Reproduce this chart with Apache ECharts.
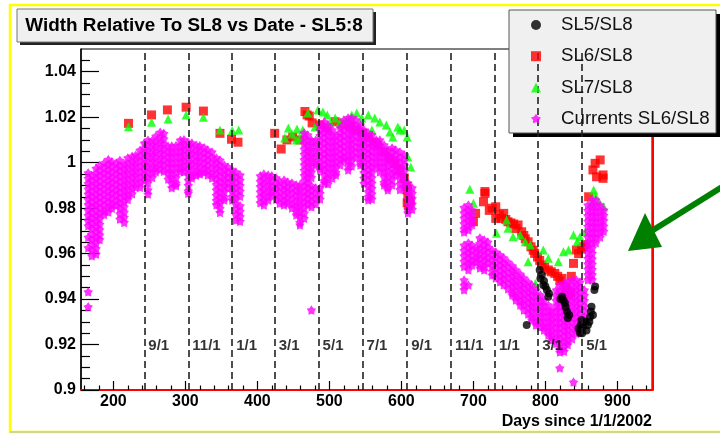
<!DOCTYPE html>
<html>
<head>
<meta charset="utf-8">
<script src="https://cdn.jsdelivr.net/npm/echarts@6/dist/echarts.min.js"></script>
<style>
  html, body { margin: 0; padding: 0; background: #fff; }
  #chart { width: 720px; height: 434px; }
</style>
</head>
<body>
<div id="chart"></div>
<script>
// Axis ticks
const xTicks = [200, 300, 400, 500, 600, 700, 800, 900];
const xMinorTicks = [160, 180, 220, 240, 260, 280, 320, 340, 360, 380, 420, 440, 460, 480,
  520, 540, 560, 580, 620, 640, 660, 680, 720, 740, 760, 780, 820, 840, 860, 880, 920, 940];
const yTicks = [0.9, 0.92, 0.94, 0.96, 0.98, 1.0, 1.02, 1.04];
const yMinorTicks = [0.905, 0.91, 0.915, 0.925, 0.93, 0.935, 0.945, 0.95, 0.955, 0.965, 0.97, 0.975,
  0.985, 0.99, 0.995, 1.005, 1.01, 1.015, 1.025, 1.03, 1.035, 1.045];

// First-of-month markers (days since 1/1/2002)
const monthDays = [243, 304, 365, 424, 485, 546, 608, 669, 730, 790, 851];
const monthLabels = ['9/1', '11/1', '1/1', '3/1', '5/1', '7/1', '9/1', '11/1', '1/1', '3/1', '5/1'];
const monthLabelLevel = 0.9194;

// SL5/SL8
const sl5 = [
  [774, 0.9286], [792, 0.9528], [793, 0.9490], [795, 0.9506], [797, 0.9462], [798, 0.9480], [800, 0.9455],
  [802, 0.9440], [804, 0.9410], [805, 0.9425], [821, 0.9400], [823, 0.9410], [825, 0.9395], [827, 0.9383],
  [828, 0.9365], [830, 0.9344], [831, 0.9317], [833, 0.9330], [846, 0.9270], [848, 0.9251], [849, 0.9285],
  [850, 0.9308], [851, 0.9250], [852, 0.9277], [855, 0.9300], [857, 0.9262], [859, 0.9286], [861, 0.9300],
  [862, 0.9321], [863, 0.9345], [864, 0.9366], [866, 0.9330], [868, 0.9440], [869, 0.9455]
];

// SL6/SL8
const sl6 = [
  [221, 1.0173], [253, 1.0210], [275, 1.0232], [301, 1.0244], [325, 1.0227], [348, 1.0129], [364, 1.0103], [373, 1.0090],
  [424, 1.0129], [433, 1.0060], [441, 1.0100], [449, 1.0113], [459, 1.0100], [466, 1.0225], [469, 1.0210], [472, 1.0205],
  [476, 1.0175], [487, 1.0166], [497, 1.0153], [508, 1.0180], [517, 1.0170], [529, 1.0161], [537, 1.0144], [546, 1.0130],
  [554, 1.0113], [561, 1.0090], [567, 1.0078], [576, 1.0047], [583, 1.0020], [591, 0.9998], [598, 0.9968], [604, 0.9933],
  [608, 0.9880], [609, 0.9850], [608, 0.9823], [608, 0.9895], [612, 0.9830], [610, 0.9810],
  [700, 0.9740], [703, 0.9777], [714, 0.9828], [716, 0.9865], [716, 0.9873], [722, 0.9790], [726, 0.9800], [731, 0.9806],
  [731, 0.9755], [736, 0.9770], [739, 0.9755], [742, 0.9777], [745, 0.9750], [748, 0.9740], [752, 0.9735], [756, 0.9730],
  [759, 0.9710], [762, 0.9726], [767, 0.9696], [770, 0.9680], [772, 0.9665], [776, 0.9652], [780, 0.9630], [783, 0.9615],
  [785, 0.9601], [789, 0.9585], [792, 0.9570], [795, 0.9550], [799, 0.9540], [804, 0.9528], [808, 0.9520], [813, 0.9513],
  [817, 0.9500], [820, 0.9480], [823, 0.9491], [827, 0.9454], [829, 0.9440], [832, 0.9418], [835, 0.9430], [836, 0.9500],
  [839, 0.9557], [843, 0.9616], [846, 0.9600], [850, 0.9620], [853, 0.9630], [856, 0.9640], [860, 0.9850], [866, 0.9968],
  [869, 0.9997], [871, 0.9938], [876, 1.0012], [880, 0.9946], [880, 0.9931]
];

// SL7/SL8
const sl7 = [
  [221, 1.0158], [253, 1.0178], [276, 1.0192], [301, 1.0210], [325, 1.0200], [348, 1.0144], [365, 1.0141], [374, 1.0144],
  [438, 1.0109], [443, 1.0153], [448, 1.0126], [454, 1.0100], [455, 1.0148], [459, 1.0109], [463, 1.0144], [470, 1.0219],
  [480, 1.0157], [484, 1.0232], [491, 1.0223], [497, 1.0210], [501, 1.0175], [508, 1.0197], [515, 1.0179], [524, 1.0188],
  [531, 1.0210], [538, 1.0219], [545, 1.0197], [554, 1.0210], [559, 1.0144], [563, 1.0197], [570, 1.0179], [579, 1.0166],
  [584, 1.0135], [588, 1.0113], [595, 1.0157], [598, 1.0144], [604, 1.0144], [608, 1.0113], [609, 1.0025], [613, 0.9981],
  [695, 0.9883], [698, 0.9784], [700, 0.9821], [732, 0.9689], [746, 0.9748], [748, 0.9711], [755, 0.9674], [765, 0.9682],
  [772, 0.9652], [779, 0.9638], [776, 0.9564], [786, 0.9469], [797, 0.9616], [804, 0.9579], [818, 0.9564], [825, 0.9608],
  [832, 0.9616], [839, 0.9682], [844, 0.9652], [848, 0.9674], [855, 0.9696], [864, 0.9821], [867, 0.9880], [869, 0.9858],
  [874, 0.9828], [881, 0.9806]
];

// Currents SL6/SL8: each row is [day, readings...]
const currentsCols = [
  [165, 0.9955, 0.9931, 0.9908, 0.9884, 0.9862, 0.9838, 0.9815, 0.9791, 0.9768, 0.9745, 0.9722, 0.9672, 0.9626, 0.9432, 0.9366],
  [170, 0.9944, 0.9921, 0.9897, 0.9873, 0.9850, 0.9826, 0.9803, 0.9779, 0.9756, 0.9732, 0.9709, 0.9685, 0.9662, 0.9638, 0.9614, 0.9590],
  [176, 0.9975, 0.9951, 0.9928, 0.9904, 0.9881, 0.9857, 0.9834, 0.9810, 0.9787, 0.9763, 0.9740, 0.9716, 0.9693, 0.9669, 0.9645, 0.9622, 0.9598],
  [181, 0.9988, 0.9964, 0.9941, 0.9917, 0.9894, 0.9870, 0.9847, 0.9823, 0.9800, 0.9776, 0.9753, 0.9729, 0.9706, 0.9682, 0.9662],
  [187, 0.9998, 0.9974, 0.9951, 0.9927, 0.9904, 0.9880, 0.9857, 0.9833, 0.9810, 0.9786, 0.9772],
  [193, 1.0014, 0.9990, 0.9967, 0.9943, 0.9920, 0.9896, 0.9873, 0.9849, 0.9826, 0.9802, 0.9783],
  [198, 1.0004, 0.9980, 0.9957, 0.9933, 0.9910, 0.9886, 0.9863, 0.9839, 0.9816, 0.9800],
  [204, 0.9996, 0.9972, 0.9949, 0.9925, 0.9902, 0.9878, 0.9855, 0.9831, 0.9812],
  [209, 1.0010, 0.9986, 0.9963, 0.9939, 0.9916, 0.9892, 0.9869, 0.9845, 0.9822, 0.9798, 0.9775, 0.9752],
  [215, 0.9994, 0.9970, 0.9947, 0.9923, 0.9900, 0.9876, 0.9853, 0.9829, 0.9806, 0.9782, 0.9759, 0.9737],
  [220, 1.0021, 0.9997, 0.9974, 0.9950, 0.9927, 0.9903, 0.9880, 0.9856, 0.9838],
  [226, 1.0028, 1.0004, 0.9981, 0.9957, 0.9934, 0.9910, 0.9887, 0.9863],
  [231, 1.0033, 1.0009, 0.9986, 0.9962, 0.9939, 0.9915, 0.9892],
  [237, 1.0055, 1.0031, 1.0008, 0.9984, 0.9961, 0.9937, 0.9914, 0.9892],
  [243, 1.0086, 1.0062, 1.0039, 1.0015, 0.9992, 0.9968, 0.9945, 0.9921],
  [248, 1.0099, 1.0075, 1.0052, 1.0028, 1.0005, 0.9981, 0.9958, 0.9934, 0.9911, 0.9880, 0.9862],
  [254, 1.0098, 1.0074, 1.0051, 1.0027, 1.0004, 0.9980, 0.9957, 0.9935],
  [259, 1.0117, 1.0093, 1.0070, 1.0046, 1.0023, 0.9999, 0.9976, 0.9960],
  [265, 1.0134, 1.0110, 1.0087, 1.0063, 1.0040, 1.0016, 0.9993, 0.9970],
  [270, 1.0129, 1.0105, 1.0082, 1.0058, 1.0035, 1.0011, 0.9988, 0.9962],
  [276, 1.0072, 1.0048, 1.0025, 1.0001, 0.9978, 0.9954, 0.9928],
  [281, 1.0073, 1.0049, 1.0026, 1.0002, 0.9979, 0.9955, 0.9932, 0.9908, 0.9890],
  [287, 1.0075, 1.0051, 1.0028, 1.0004, 0.9981, 0.9957, 0.9934, 0.9910, 0.9899],
  [293, 1.0099, 1.0075, 1.0052, 1.0028, 1.0005, 0.9981, 0.9961],
  [298, 1.0101, 1.0077, 1.0054, 1.0030, 1.0007, 0.9983, 0.9960],
  [304, 1.0088, 1.0064, 1.0041, 1.0017, 0.9994, 0.9970, 0.9947, 0.9923, 0.9900, 0.9876, 0.9866],
  [309, 1.0086, 1.0062, 1.0039, 1.0015, 0.9992, 0.9968, 0.9945, 0.9933],
  [315, 1.0077, 1.0053, 1.0030, 1.0006, 0.9983, 0.9959, 0.9945],
  [320, 1.0074, 1.0050, 1.0027, 1.0003, 0.9980, 0.9956, 0.9950],
  [326, 1.0066, 1.0042, 1.0019, 0.9995, 0.9972, 0.9958],
  [331, 1.0056, 1.0032, 1.0009, 0.9985, 0.9962, 0.9946],
  [337, 1.0047, 1.0023, 1.0000, 0.9976, 0.9953, 0.9933],
  [343, 1.0021, 0.9997, 0.9974, 0.9950, 0.9927, 0.9903, 0.9880, 0.9856, 0.9833, 0.9815],
  [348, 1.0011, 0.9987, 0.9964, 0.9940, 0.9917, 0.9893, 0.9870, 0.9846, 0.9823, 0.9799, 0.9781],
  [354, 0.9990, 0.9966, 0.9943, 0.9919, 0.9896, 0.9872, 0.9849, 0.9836],
  [359, 0.9981, 0.9957, 0.9934, 0.9910, 0.9889],
  [365, 0.9968, 0.9944, 0.9921, 0.9897, 0.9874, 0.9850, 0.9836],
  [370, 0.9959, 0.9935, 0.9912, 0.9888, 0.9865, 0.9841, 0.9818, 0.9794, 0.9771, 0.9747],
  [376, 0.9946, 0.9922, 0.9899, 0.9875, 0.9852, 0.9810, 0.9786, 0.9763, 0.9742],
  [404, 0.9942, 0.9918, 0.9895, 0.9871, 0.9848, 0.9824],
  [409, 0.9950, 0.9926, 0.9903, 0.9879, 0.9856, 0.9832, 0.9814],
  [415, 0.9946, 0.9922, 0.9899, 0.9875, 0.9852, 0.9836],
  [420, 0.9942, 0.9918, 0.9895, 0.9871, 0.9858],
  [426, 0.9933, 0.9909, 0.9886, 0.9862, 0.9839],
  [431, 0.9915, 0.9891, 0.9868, 0.9844, 0.9821],
  [437, 0.9924, 0.9900, 0.9877, 0.9853, 0.9830, 0.9814],
  [442, 0.9915, 0.9891, 0.9868, 0.9844, 0.9821],
  [448, 0.9911, 0.9887, 0.9864, 0.9840, 0.9817, 0.9801],
  [454, 0.9902, 0.9878, 0.9855, 0.9831, 0.9808, 0.9784, 0.9770],
  [459, 0.9902, 0.9878, 0.9855, 0.9831, 0.9808, 0.9784, 0.9761, 0.9737, 0.9726],
  [465, 1.0131, 1.0107, 1.0084, 1.0060, 1.0037, 1.0013, 0.9990, 0.9966, 0.9943, 0.9919, 0.9896, 0.9872, 0.9849, 0.9825, 0.9802, 0.9778, 0.9755],
  [470, 1.0122, 1.0098, 1.0075, 1.0051, 1.0028, 1.0004, 0.9981, 0.9957, 0.9934, 0.9910, 0.9887, 0.9863, 0.9840, 0.9816],
  [475, 1.0100, 1.0076, 1.0053, 1.0029, 1.0006, 0.9982, 0.9959, 0.9935, 0.9898, 0.9875, 0.9851, 0.9828, 0.9806, 0.9352],
  [481, 1.0099, 1.0075, 1.0052, 1.0028, 1.0005, 0.9990, 0.9889, 0.9865, 0.9842, 0.9818],
  [487, 1.0166, 1.0142, 1.0119, 1.0095, 1.0072, 1.0048, 1.0025, 1.0001, 0.9978, 0.9968, 0.9889, 0.9865, 0.9840],
  [493, 1.0179, 1.0155, 1.0132, 1.0108, 1.0085, 1.0061, 1.0038, 1.0014, 0.9991, 0.9967, 0.9944, 0.9920, 0.9911],
  [498, 1.0166, 1.0142, 1.0119, 1.0095, 1.0072, 1.0048, 1.0025, 1.0001, 0.9978, 0.9954, 0.9931, 0.9907],
  [504, 1.0144, 1.0120, 1.0097, 1.0073, 1.0050, 1.0026, 1.0003, 0.9979, 0.9956, 0.9932],
  [509, 1.0122, 1.0098, 1.0075, 1.0051, 1.0028, 1.0004, 0.9981, 0.9957, 0.9946],
  [515, 1.0153, 1.0129, 1.0106, 1.0082, 1.0059, 1.0035, 1.0012, 0.9990],
  [520, 1.0188, 1.0164, 1.0141, 1.0117, 1.0094, 1.0070, 1.0047, 1.0023, 1.0012],
  [526, 1.0197, 1.0173, 1.0150, 1.0126, 1.0103, 1.0079, 1.0056, 1.0032, 1.0009, 0.9985, 0.9968],
  [531, 1.0197, 1.0173, 1.0150, 1.0126, 1.0103, 1.0079, 1.0056, 1.0032, 1.0009, 0.9985],
  [537, 1.0188, 1.0164, 1.0141, 1.0117, 1.0094, 1.0070, 1.0047, 1.0023],
  [543, 1.0166, 1.0142, 1.0119, 1.0095, 1.0072, 1.0048, 1.0025, 1.0001, 0.9990],
  [548, 1.0144, 1.0120, 1.0097, 1.0073, 1.0050, 1.0026, 1.0003, 0.9979, 0.9956, 0.9932, 0.9909],
  [554, 1.0131, 1.0107, 1.0084, 1.0060, 1.0037, 1.0013, 0.9990, 0.9966, 0.9943, 0.9919, 0.9896, 0.9872, 0.9849, 0.9836],
  [559, 1.0122, 1.0098, 1.0075, 1.0051, 1.0028, 1.0004, 0.9981, 0.9957, 0.9934, 0.9910, 0.9887, 0.9863, 0.9840],
  [565, 1.0100, 1.0076, 1.0053, 1.0029, 1.0006, 0.9982],
  [570, 1.0100, 1.0076, 1.0053, 1.0029, 1.0006, 0.9982, 0.9960],
  [576, 1.0078, 1.0054, 1.0031, 1.0007, 0.9984, 0.9960, 0.9937, 0.9913, 0.9902],
  [581, 1.0056, 1.0032, 1.0009, 0.9985, 0.9962, 0.9938, 0.9915, 0.9891, 0.9880],
  [587, 1.0065, 1.0041, 1.0018, 0.9994, 0.9971, 0.9947, 0.9924, 0.9902],
  [592, 1.0056, 1.0032, 1.0009, 0.9985, 0.9962, 0.9946],
  [598, 1.0047, 1.0023, 1.0000, 0.9976, 0.9953, 0.9929, 0.9906, 0.9882],
  [604, 1.0034, 1.0010, 0.9987, 0.9963, 0.9940, 0.9916, 0.9893],
  [609, 0.9911, 0.9887, 0.9864, 0.9840, 0.9817, 0.9793, 0.9779],
  [615, 0.9889, 0.9865, 0.9842, 0.9818, 0.9795],
  [687, 0.9803, 0.9779, 0.9756, 0.9732, 0.9709, 0.9695, 0.9637, 0.9613, 0.9590, 0.9566, 0.9543, 0.9484, 0.9461, 0.9441],
  [693, 0.9814, 0.9790, 0.9767, 0.9743, 0.9720, 0.9704, 0.9647, 0.9623, 0.9600, 0.9576, 0.9553, 0.9529, 0.9462],
  [698, 0.9792, 0.9768, 0.9745, 0.9728, 0.9638, 0.9614, 0.9591, 0.9567, 0.9550],
  [704, 0.9625, 0.9601, 0.9578, 0.9563],
  [709, 0.9669, 0.9645, 0.9622, 0.9598, 0.9575, 0.9551, 0.9537],
  [715, 0.9660, 0.9636, 0.9613, 0.9589, 0.9566, 0.9542, 0.9528],
  [720, 0.9651, 0.9627, 0.9604, 0.9580, 0.9557],
  [726, 0.9616, 0.9592, 0.9569, 0.9545, 0.9522, 0.9506],
  [731, 0.9607, 0.9583, 0.9560, 0.9536, 0.9513, 0.9493],
  [737, 0.9594, 0.9570, 0.9547, 0.9523, 0.9500, 0.9476],
  [742, 0.9581, 0.9557, 0.9534, 0.9510, 0.9487, 0.9463],
  [748, 0.9563, 0.9539, 0.9516, 0.9492, 0.9469, 0.9445],
  [754, 0.9546, 0.9522, 0.9499, 0.9475, 0.9452, 0.9428, 0.9418],
  [759, 0.9528, 0.9504, 0.9481, 0.9457, 0.9434, 0.9410, 0.9396],
  [765, 0.9510, 0.9486, 0.9463, 0.9439, 0.9416, 0.9392, 0.9374],
  [770, 0.9493, 0.9469, 0.9446, 0.9422, 0.9399, 0.9375, 0.9352],
  [776, 0.9475, 0.9451, 0.9428, 0.9404, 0.9381, 0.9357, 0.9334],
  [781, 0.9462, 0.9438, 0.9415, 0.9391, 0.9368, 0.9344, 0.9321, 0.9308],
  [787, 0.9440, 0.9416, 0.9393, 0.9369, 0.9346, 0.9322, 0.9299, 0.9286],
  [793, 0.9418, 0.9394, 0.9371, 0.9347, 0.9324, 0.9300, 0.9277],
  [798, 0.9396, 0.9372, 0.9349, 0.9325, 0.9302, 0.9278, 0.9264],
  [804, 0.9374, 0.9350, 0.9327, 0.9303, 0.9280, 0.9256, 0.9242],
  [809, 0.9352, 0.9328, 0.9305, 0.9281, 0.9258, 0.9234, 0.9220],
  [815, 0.9440, 0.9416, 0.9393, 0.9369, 0.9346, 0.9322, 0.9299, 0.9275, 0.9252, 0.9228, 0.9205],
  [820, 0.9462, 0.9438, 0.9415, 0.9391, 0.9368, 0.9344, 0.9321, 0.9297, 0.9274, 0.9250, 0.9227, 0.9203, 0.9180, 0.9167, 0.9097],
  [826, 0.9471, 0.9447, 0.9424, 0.9400, 0.9377, 0.9353, 0.9330, 0.9306, 0.9283, 0.9259, 0.9236, 0.9212, 0.9189, 0.9170],
  [831, 0.9475, 0.9451, 0.9428, 0.9404, 0.9381, 0.9357, 0.9334, 0.9310, 0.9287, 0.9263, 0.9240, 0.9216, 0.9200],
  [837, 0.9484, 0.9460, 0.9437, 0.9413, 0.9390, 0.9366, 0.9343, 0.9319, 0.9296, 0.9272, 0.9249, 0.9225],
  [839, 0.9035],
  [843, 0.9484, 0.9460, 0.9437, 0.9413, 0.9390, 0.9366, 0.9343, 0.9319, 0.9296, 0.9272, 0.9249],
  [848, 0.9475, 0.9451, 0.9428, 0.9404, 0.9381, 0.9357, 0.9334, 0.9310, 0.9287, 0.9266],
  [854, 0.9440, 0.9416, 0.9393, 0.9369, 0.9346, 0.9322, 0.9308],
  [859, 0.9814, 0.9790, 0.9767, 0.9743, 0.9720, 0.9696, 0.9673, 0.9649, 0.9626, 0.9602, 0.9579, 0.9555, 0.9532, 0.9508, 0.9485],
  [865, 0.9836, 0.9812, 0.9789, 0.9765, 0.9742, 0.9718, 0.9695, 0.9671, 0.9648, 0.9624, 0.9601, 0.9577, 0.9554, 0.9530, 0.9507, 0.9485],
  [870, 0.9836, 0.9812, 0.9789, 0.9765, 0.9742, 0.9718, 0.9695, 0.9671, 0.9648],
  [876, 0.9814, 0.9790, 0.9767, 0.9743, 0.9720, 0.9696, 0.9673],
  [881, 0.9792, 0.9768, 0.9745, 0.9721, 0.9698]
];

const currents = [];
currentsCols.forEach(function (col) {
  for (let i = 1; i < col.length; i++) currents.push([col[0], col[i]]);
});

const FONT = "'Liberation Sans', Arial, Helvetica, sans-serif";
// five-pointed star with broad arms
const STAR = 'path://M0,-10 L3.53,-4.85 L9.51,-3.09 L5.71,1.85 L5.88,8.09 L0,6 L-5.88,8.09 L-5.71,1.85 L-9.51,-3.09 L-3.53,-4.85 Z';

function fmtY(v) { return String(parseFloat(v.toFixed(2))); }

const chart = echarts.init(document.getElementById('chart'), null, { renderer: 'canvas' });

const option = {
  animation: false,
  backgroundColor: '#ffffff',
  grid: {
    left: 81, top: 49, width: 571, height: 341,
    show: true, borderColor: '#000', borderWidth: 1, backgroundColor: '#fff'
  },
  xAxis: [
    {
      type: 'value', min: 155, max: 948, position: 'bottom',
      axisLine: { show: true, onZero: false, lineStyle: { color: '#ff0000', width: 2 } },
      axisTick: { show: true, inside: true, length: 9, customValues: xTicks, lineStyle: { color: '#000', width: 1.2 } },
      axisLabel: {
        customValues: xTicks, margin: 4, fontSize: 16, fontWeight: 'bold', color: '#000', fontFamily: FONT
      },
      splitLine: { show: false },
      name: 'Days since 1/1/2002', nameLocation: 'end', nameGap: 0,
      nameTextStyle: {
        align: 'right', verticalAlign: 'top', padding: [24, 0, 0, 0],
        fontSize: 16, fontWeight: 'bold', color: '#000', fontFamily: FONT
      }
    },
    {
      type: 'value', min: 155, max: 948, position: 'bottom',
      axisLine: { show: false },
      axisTick: { show: true, inside: true, length: 4.5, customValues: xMinorTicks, lineStyle: { color: '#000', width: 1.2 } },
      axisLabel: { show: false },
      splitLine: { show: false }
    }
  ],
  yAxis: [
    {
      type: 'value', min: 0.9, max: 1.05, position: 'left',
      axisLine: { show: true, onZero: false, lineStyle: { color: '#000', width: 1.5 } },
      axisTick: { show: true, inside: true, length: 18, customValues: yTicks, lineStyle: { color: '#000', width: 1.2 } },
      axisLabel: {
        customValues: yTicks, formatter: fmtY, margin: 5,
        fontSize: 16, fontWeight: 'bold', color: '#000', fontFamily: FONT
      },
      splitLine: { show: false }
    },
    {
      type: 'value', min: 0.9, max: 1.05, position: 'left',
      axisLine: { show: false },
      axisTick: { show: true, inside: true, length: 9, customValues: yMinorTicks, lineStyle: { color: '#000', width: 1.2 } },
      axisLabel: { show: false },
      splitLine: { show: false }
    },
    {
      type: 'value', min: 0.9, max: 1.05, position: 'right', offset: 1,
      axisLine: { show: true, onZero: false, lineStyle: { color: '#ff0000', width: 2 } },
      axisTick: { show: false }, axisLabel: { show: false }, splitLine: { show: false }
    }
  ],
  legend: {
    orient: 'vertical', left: 531, top: 12, padding: 0,
    itemWidth: 10, itemHeight: 10, itemGap: 5.2,
    data: ['SL5/SL8', 'SL6/SL8', 'SL7/SL8', 'Currents SL6/SL8'],
    textStyle: { fontSize: 18.7, color: '#111', fontFamily: FONT, lineHeight: 20, padding: [0, 0, 6, 15] },
    z: 6
  },
  graphic: [
    // page frame
    { type: 'rect', z: 0, silent: true, shape: { x: 10, y: 5, width: 716, height: 427 },
      style: { fill: 'none', stroke: '#ffff00', lineWidth: 2.5 } },
    { type: 'line', z: 0, silent: true, shape: { x1: 10, y1: 432, x2: 720, y2: 432 },
      style: { stroke: '#d4d48c', lineWidth: 2 } },
    // title box
    { type: 'rect', z: 5, silent: true, shape: { x: 20, y: 12, width: 356, height: 33 }, style: { fill: '#222' } },
    { type: 'rect', z: 5, silent: true, shape: { x: 17, y: 9, width: 356, height: 33 },
      style: { fill: '#f0f0f0', stroke: '#777', lineWidth: 1 } },
    { type: 'text', z: 6, silent: true, x: 194, y: 26,
      style: { text: 'Width Relative To SL8 vs Date - SL5:8', fill: '#000', align: 'center', verticalAlign: 'middle',
        font: 'bold 18.9px ' + FONT } },
    // legend box
    { type: 'rect', z: 5, silent: true, shape: { x: 513, y: 14, width: 207, height: 123 }, style: { fill: '#000' } },
    { type: 'rect', z: 5, silent: true, shape: { x: 509, y: 10, width: 207, height: 123 },
      style: { fill: '#f0f0f0', stroke: '#555', lineWidth: 1 } },
    // pointer arrow
    { type: 'line', z: 20, silent: true, shape: { x1: 722, y1: 187, x2: 650, y2: 232 },
      style: { stroke: '#008000', lineWidth: 6 } },
    { type: 'polygon', z: 20, silent: true, shape: { points: [[628, 251], [645, 213], [662, 247]] },
      style: { fill: '#008000' } }
  ],
  series: [
    {
      name: 'SL6/SL8', type: 'scatter', symbol: 'rect', symbolSize: 9, z: 2,
      itemStyle: { color: '#ff0000' }, data: sl6
    },
    {
      name: 'SL7/SL8', type: 'scatter', symbol: 'triangle', symbolSize: 9, z: 3,
      itemStyle: { color: '#00ff00' }, data: sl7
    },
    {
      name: 'Currents SL6/SL8', type: 'scatter', symbol: STAR, symbolSize: 9.5, z: 4,
      itemStyle: { color: '#ff00ff' }, data: currents
    },
    {
      name: 'SL5/SL8', type: 'scatter', symbol: 'circle', symbolSize: 8, z: 4.5,
      itemStyle: { color: '#000000' }, data: sl5
    },
    {
      name: 'months', type: 'scatter', symbolSize: 0, z: 5, silent: true,
      data: monthDays.map(function (d) { return [d, monthLabelLevel]; }),
      label: {
        show: true, position: 'right', distance: 4,
        formatter: function (p) { return monthLabels[p.dataIndex]; },
        fontSize: 15, fontWeight: 'bold', color: '#000', fontFamily: FONT
      },
      markLine: {
        silent: true, symbol: ['none', 'none'], animation: false,
        label: { show: false },
        lineStyle: { type: [7, 4], color: '#222', width: 1.6 },
        data: monthDays.map(function (d) { return { xAxis: d }; })
      }
    }
  ]
};

chart.setOption(option);
</script>
</body>
</html>
